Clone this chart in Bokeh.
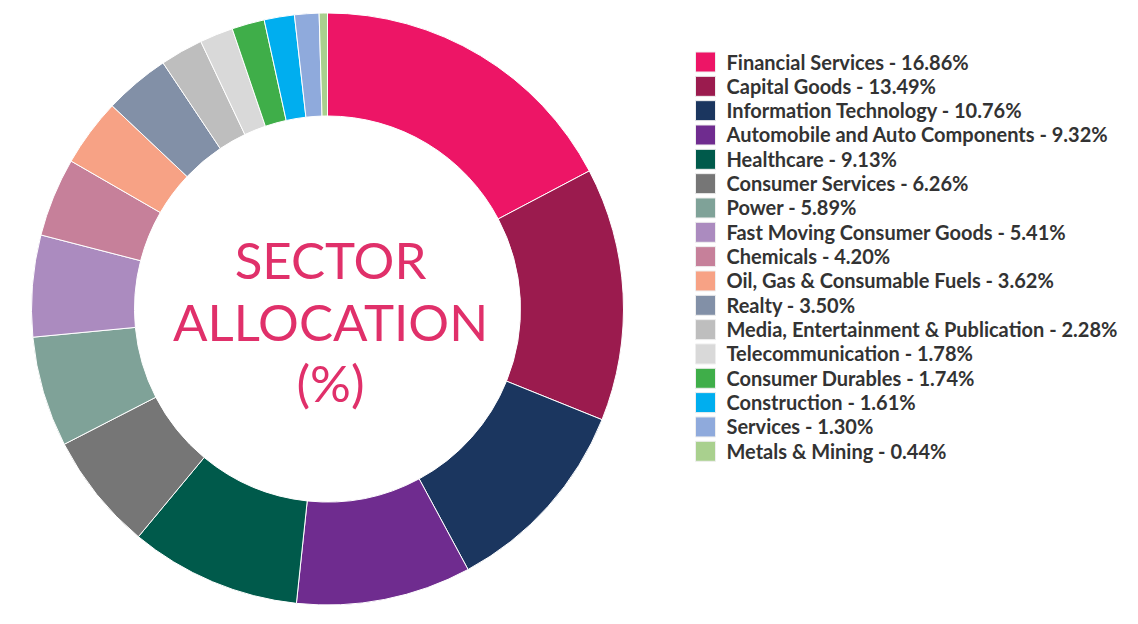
import numpy as np
from bokeh.plotting import figure
from bokeh.models import Range1d, ColumnDataSource
from bokeh.core.properties import value
from bokeh.embed import file_html
from bokeh.resources import INLINE

sectors = ["Financial Services", "Capital Goods", "Information Technology",
           "Automobile and Auto Components", "Healthcare", "Consumer Services",
           "Power", "Fast Moving Consumer Goods", "Chemicals",
           "Oil, Gas & Consumable Fuels", "Realty",
           "Media, Entertainment & Publication", "Telecommunication",
           "Consumer Durables", "Construction", "Services", "Metals & Mining"]
weights = [16.86, 13.49, 10.76, 9.32, 9.13, 6.26, 5.89, 5.41, 4.20, 3.62, 3.50,
           2.28, 1.78, 1.74, 1.61, 1.30, 0.44]
colors = ["#ED1566", "#9B1B4E", "#1B365F", "#6F2C8F", "#005A4B", "#767676",
          "#7FA298", "#AB8BBF", "#C6809A", "#F7A285", "#8290A7", "#BEBEBE",
          "#D9D9D9", "#3FAE49", "#00AEEF", "#8FAADC", "#A9D08E"]
center_lines = ["SECTOR", "ALLOCATION", "(%)"]

W, H = 1122, 608
p = figure(width=W, height=H, output_backend="svg", toolbar_location=None,
           x_range=Range1d(0, W), y_range=Range1d(16, 16 + H),
           min_border=0, outline_line_color=None)
p.axis.visible = False
p.grid.visible = False
p.background_fill_color = "white"
p.border_fill_color = "white"

def Y(py):
    return 624 - py

w = np.array(weights)
total = w.sum()
cum = np.concatenate([[0], np.cumsum(w)])
start = np.pi / 2 - 2 * np.pi * cum[:-1] / total
end = np.pi / 2 - 2 * np.pi * cum[1:] / total

cx, cy = 327, Y(308.5)
src = ColumnDataSource(dict(start=start, end=end, color=colors))
p.annular_wedge(x=cx, y=cy, inner_radius=193, outer_radius=296,
                start_angle="start", end_angle="end", direction="clock",
                fill_color="color", line_color="white", line_width=1, source=src)

# centre title
text_y = [Y(259), Y(321), Y(382)]
p.text(x=[330] * 3, y=text_y, text=center_lines, text_align="center",
       text_baseline="middle", text_font=value("Lato"), text_font_size="51px",
       text_color="#E0306A")

# legend
n = len(sectors)
row_y = [Y(61.5 + i * 24.33) for i in range(n)]
labels = [f"{s} - {v:.2f}%" for s, v in zip(sectors, weights)]
lsrc = ColumnDataSource(dict(y=row_y, color=colors, label=labels))
p.rect(x=705, y="y", width=20, height=20, fill_color="color",
       line_color="#eeeeee", line_width=1, source=lsrc)
p.text(x=726, y=[v + 0.5 for v in row_y], text=labels, text_baseline="middle",
       text_align="left", text_font=value("Lato"), text_font_size="20px",
       text_font_style="bold", text_color="#333333")

open("out.html", "w").write(file_html(p, INLINE))
